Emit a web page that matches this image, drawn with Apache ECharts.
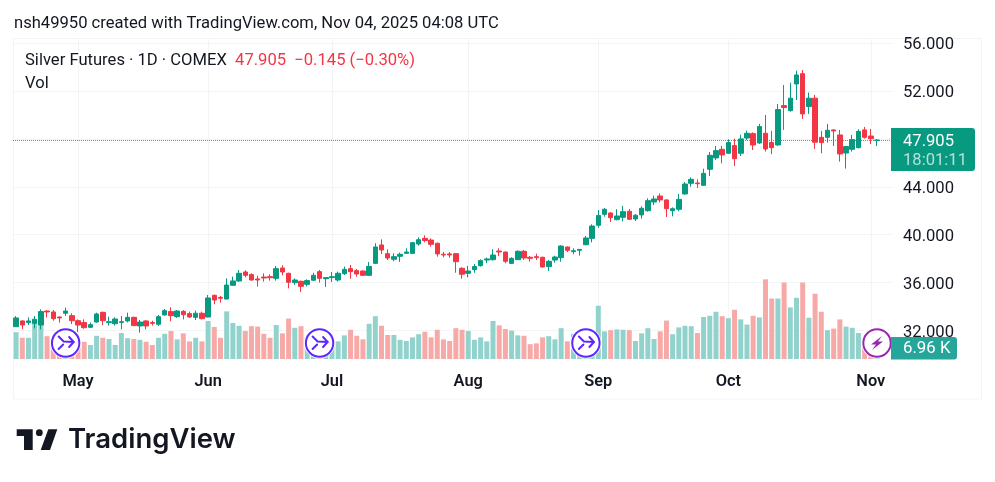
<!DOCTYPE html>
<html>
<head>
<meta charset="utf-8">
<title>Silver Futures</title>
<script src="https://cdn.jsdelivr.net/npm/echarts@6/dist/echarts.min.js"></script>
<style>
html, body { margin: 0; padding: 0; background: #fff; }
#chart { width: 995px; height: 482px; }
</style>
</head>
<body>
<div id="chart"></div>
<script>
// Data
const categories = [
    '04-16','04-17','04-21','04-22','04-23','04-24','04-25','04-28','04-29','04-30',
    '05-01','05-02','05-05','05-06','05-07','05-08','05-09','05-12','05-13','05-14','05-15','05-16','05-19','05-20','05-21','05-22','05-23','05-27','05-28','05-29','05-30',
    '06-02','06-03','06-04','06-05','06-06','06-09','06-10','06-11','06-12','06-13','06-16','06-17','06-18','06-20','06-23','06-24','06-25','06-26','06-27','06-30',
    '07-01','07-02','07-03','07-07','07-08','07-09','07-10','07-11','07-14','07-15','07-16','07-17','07-18','07-21','07-22','07-23','07-24','07-25','07-28','07-29','07-30','07-31',
    '08-01','08-04','08-05','08-06','08-07','08-08','08-11','08-12','08-13','08-14','08-15','08-18','08-19','08-20','08-21','08-22','08-25','08-26','08-27','08-28','08-29',
    '09-02','09-03','09-04','09-05','09-08','09-09','09-10','09-11','09-12','09-15','09-16','09-17','09-18','09-19','09-22','09-23','09-24','09-25','09-26','09-29','09-30',
    '10-01','10-02','10-03','10-06','10-07','10-08','10-09','10-10','10-13','10-14','10-15','10-16','10-17','10-20','10-21','10-22','10-23','10-24','10-27','10-28','10-29','10-30','10-31',
    '11-03','11-04','',''
];
const opens = [
    32.31,32.79,32.65,32.59,32.45,33.62,33.54,33.12,33.43,33.23,
    32.81,32.65,32.26,32.7,33.51,32.65,32.56,32.67,32.79,33.09,
    32.37,32.79,32.65,32.51,33.29,33.57,33.15,33.59,33.4,33.09,
    33.43,33.12,34.93,34.76,34.62,35.77,36.13,36.88,36.66,36.3,
    36.46,36.49,36.35,37.21,36.77,35.99,36.1,35.85,36.19,36.91,
    36.32,36.41,36.21,36.74,37.16,36.99,36.96,36.6,37.6,39.14,
    38.41,37.94,38.19,38.44,38.44,39.22,39.69,39.55,39.28,38.36,
    38.39,38.41,37.19,36.77,37.08,37.41,37.88,37.91,38.63,38.55,
    37.6,37.91,38.61,38.11,38.16,38.11,37.33,37.88,38.08,38.97,
    38.58,38.69,39.16,39.69,40.78,41.7,41.81,41.25,41.45,41.95,
    41.31,41.65,42.0,42.73,43.23,42.9,42.0,42.12,43.4,44.29,
    44.32,44.12,45.46,46.41,47.13,46.8,47.44,46.8,48.07,48.44,
    47.66,48.47,47.69,47.49,50.78,50.36,52.59,53.45,50.7,51.4,
    48.13,48.13,48.75,48.33,46.82,47.13,47.27,48.75,48.24,47.88
];
const closes = [
    33.04,32.45,32.79,32.93,33.57,33.54,32.98,33.04,33.62,32.81,
    32.45,32.23,32.48,33.37,32.81,32.73,32.95,32.73,33.09,32.4,
    32.7,32.37,32.59,33.15,33.65,33.23,33.62,33.31,33.12,33.43,
    32.98,34.71,34.54,34.68,35.79,36.13,36.77,36.6,36.21,36.21,
    36.38,36.4,37.16,36.88,36.02,36.21,35.68,36.16,36.6,36.35,
    36.41,36.49,36.77,37.1,36.91,36.71,36.6,37.35,38.97,38.72,
    38.05,38.16,38.36,38.55,39.33,39.58,39.5,39.19,38.39,38.3,
    38.3,37.74,36.69,36.96,37.33,37.83,37.97,38.3,38.55,37.77,
    38.02,38.61,38.05,38.02,38.08,37.3,37.77,38.13,39.05,38.69,
    38.66,38.77,39.72,40.72,41.61,42.12,41.42,41.56,41.92,41.28,
    41.62,42.2,42.84,42.98,42.9,42.17,42.17,42.95,44.23,44.62,
    44.26,45.12,46.63,47.02,46.66,47.69,46.35,48.0,48.47,47.49,
    49.03,47.16,47.27,50.45,50.62,51.4,53.34,50.09,51.4,47.72,
    47.69,48.72,48.66,46.74,47.36,47.94,48.63,48.13,48.02,47.905
];
const lows = [
    32.3,32.12,32.45,32.17,32.09,33.09,32.81,32.65,33.2,32.53,
    31.87,32.14,32.2,32.65,32.45,32.4,32.4,32.09,32.67,32.36,
    31.81,32.09,32.4,32.37,33.23,32.76,33.04,32.92,33.04,32.87,
    32.92,33.09,34.18,34.32,34.6,35.71,36.05,36.43,36.16,35.66,
    36.08,36.16,36.16,36.6,35.51,35.8,35.21,35.68,36.13,35.99,
    35.63,36.05,36.08,36.63,36.32,36.49,36.55,36.55,37.55,38.38,
    37.88,37.77,37.72,38.38,38.38,39.08,39.36,39.0,38.16,38.11,
    38.08,36.82,36.32,36.43,36.82,37.33,37.61,37.83,38.22,37.61,
    37.55,37.88,37.88,37.74,37.88,37.24,36.96,37.66,37.74,38.55,
    38.36,38.25,39.11,39.36,40.58,41.5,41.06,41.2,41.11,41.22,
    41.14,41.34,41.92,42.48,42.68,41.48,41.53,41.95,43.34,44.01,
    43.9,44.07,44.9,46.24,45.96,46.77,45.74,46.57,47.91,47.07,
    47.58,46.94,46.72,47.44,48.75,50.28,51.25,49.67,50.09,47.16,
    46.8,47.69,47.41,46.1,45.52,46.94,47.21,48.02,47.58,47.4
];
const highs = [
    33.2,32.85,33.09,33.2,33.76,33.68,33.7,33.15,33.9,33.43,
    32.92,32.92,32.65,33.48,33.57,33.15,33.09,33.2,33.48,33.15,
    32.87,32.85,32.81,33.29,33.79,33.93,33.7,33.7,33.57,33.65,
    33.57,34.96,34.99,34.88,36.35,36.49,37.05,37.02,36.77,36.57,
    36.77,36.68,37.38,37.44,36.82,36.35,36.16,36.27,36.82,37.05,
    36.43,36.88,36.91,37.33,37.47,37.13,37.02,37.72,39.28,39.61,
    38.77,38.44,38.5,38.86,39.39,39.78,39.94,39.69,39.33,38.55,
    38.55,38.44,37.27,37.38,37.55,37.94,38.08,38.77,38.86,38.58,
    38.11,38.69,38.72,38.22,38.41,38.16,37.88,38.24,39.11,39.0,
    38.86,38.77,39.89,40.86,42.06,42.23,41.87,42.12,42.4,42.14,
    41.73,42.37,43.04,43.26,43.45,42.95,42.28,43.4,44.4,44.79,
    44.62,45.51,46.91,47.41,47.41,47.97,48.02,48.35,48.69,48.55,
    49.25,50.0,48.67,50.92,52.5,52.7,53.7,53.76,51.87,51.67,
    48.67,49.25,48.8,48.75,47.41,48.33,48.8,49.0,48.83,47.95
];
// volume in thousands
const volumes = [
    67,53,53,90,100,57,50,43,38,48,
    40,43,35,58,53,50,35,65,52,50,
    48,43,35,53,63,70,49,64,44,53,
    44,95,80,53,119,90,83,70,82,81,
    63,53,85,64,101,78,82,55,45,50,
    40,38,44,59,73,58,49,88,107,83,
    60,60,48,45,54,62,68,54,73,49,
    45,77,73,70,48,54,44,95,84,75,
    71,59,58,37,39,54,57,49,77,44,
    63,45,43,45,133,69,72,74,73,72,
    45,64,77,50,69,96,62,79,83,82,
    65,105,108,118,107,102,123,99,86,108,
    104,199,151,151,191,129,153,191,103,163,
    118,72,76,99,81,78,65,50,35,6.96
];
const monthTicks = { '05-01': 'May', '06-02': 'Jun', '07-01': 'Jul', '08-01': 'Aug', '09-02': 'Sep', '10-01': 'Oct', '11-03': 'Nov' };
const priceLines = [32, 36, 40, 44, 48, 52, 56];
const priceLabels = [32, 36, 40, 44, 52, 56];
const lastPrice = 47.905;
const rollDates = ['04-29', '06-27', '08-28'];
const flashDates = ['11-04'];

// Colors
const GREEN = '#089981';
const RED = '#f23645';
const VOL_GREEN = '#92d2cc';
const VOL_RED = '#f7a9a7';
const VOL_TAG = '#26a69a';
const TEXT = '#131722';
const LINE = '#f3f4f6';
const FONT = 'Roboto';

function drawMarker(params, api) {
    const base = api.coord([api.value(0), 0]);
    const x = base[0];
    const y = base[1] - 16;
    const isFlash = api.value(2) === 1;
    const color = isFlash ? '#9c27b0' : '#5f27ff';
    const children = [
        { type: 'circle', shape: { cx: x, cy: y, r: 15.5 }, style: { fill: '#fff' } },
        { type: 'circle', shape: { cx: x, cy: y, r: 13.7 }, style: { fill: '#fff', stroke: color, lineWidth: 2 } }
    ];
    if (isFlash) {
        children.push({
            type: 'polygon',
            shape: { points: [[x + 5, y - 7], [x - 6, y + 1.5], [x - 1, y + 1.5], [x - 5, y + 7], [x + 6, y - 1.5], [x + 1, y - 1.5]] },
            style: { fill: color }
        });
    } else {
        const line = { fill: 'none', stroke: color, lineWidth: 2, lineCap: 'round', lineJoin: 'round' };
        children.push(
            { type: 'polyline', shape: { points: [[x - 7, y - 6.5], [x - 2, y - 1.5], [x + 8, y - 1]] }, style: line },
            { type: 'polyline', shape: { points: [[x + 3.5, y - 6], [x + 8, y - 1], [x + 3.5, y + 4]] }, style: line },
            { type: 'polyline', shape: { points: [[x - 7, y + 6], [x - 2.5, y + 1.5]] }, style: line }
        );
    }
    return { type: 'group', children: children };
}

const chart = echarts.init(document.getElementById('chart'), null, { renderer: 'canvas' });

chart.setOption({
    animation: false,
    backgroundColor: '#fff',
    textStyle: { fontFamily: FONT },
    title: [
        {
            text: 'nsh49950 created with TradingView.com, Nov 04, 2025 04:08 UTC',
            left: 9, top: 10,
            textStyle: { fontFamily: FONT, fontSize: 16.6, fontWeight: 400, color: TEXT }
        },
        {
            text: '{a|Silver Futures · 1D · COMEX}  {b|47.905  −0.145 (−0.30%)}',
            left: 20, top: 47,
            textStyle: {
                fontFamily: FONT, fontSize: 16.6, fontWeight: 400,
                rich: {
                    a: { fontFamily: FONT, fontSize: 16.6, color: TEXT },
                    b: { fontFamily: FONT, fontSize: 16.6, color: RED }
                }
            }
        },
        {
            text: 'Vol',
            left: 20, top: 70,
            textStyle: { fontFamily: FONT, fontSize: 16.6, fontWeight: 400, color: TEXT }
        }
    ],
    grid: { left: 13, top: 38, width: 879.5, height: 321, containLabel: false },
    xAxis: {
        type: 'category',
        data: categories,
        boundaryGap: true,
        axisLine: { show: false },
        axisTick: { show: false },
        axisLabel: {
            margin: 15,
            fontFamily: FONT,
            fontSize: 16.4,
            fontWeight: 600,
            color: TEXT,
            interval: (i, value) => value in monthTicks,
            formatter: value => monthTicks[value] || ''
        },
        splitLine: {
            show: true,
            alignWithLabel: true,
            interval: (i, value) => value in monthTicks,
            lineStyle: { color: LINE, width: 1 }
        }
    },
    yAxis: [
        {
            type: 'value',
            position: 'right',
            min: 29.61,
            max: 56.43,
            axisLine: { show: false },
            axisTick: { show: false, customValues: priceLines },
            axisLabel: {
                customValues: priceLabels,
                margin: 10.5,
                fontFamily: FONT,
                fontSize: 16.6,
                color: TEXT,
                formatter: value => '{v|' + value.toFixed(3) + '}',
                rich: {
                    v: { fontFamily: FONT, fontSize: 16.6, color: TEXT, padding: [4, 0, 0, 0] }
                }
            },
            splitLine: { show: true, lineStyle: { color: LINE, width: 1 } }
        },
        {
            type: 'value',
            min: 0,
            max: 802,
            show: false,
            splitLine: { show: false }
        }
    ],
    series: [
        {
            name: 'Vol',
            type: 'bar',
            yAxisIndex: 1,
            barWidth: 5,
            z: 2,
            data: volumes.map((v, i) => ({
                value: v,
                itemStyle: { color: closes[i] >= opens[i] ? VOL_GREEN : VOL_RED }
            }))
        },
        {
            name: 'Silver Futures',
            type: 'candlestick',
            yAxisIndex: 0,
            barWidth: 5,
            z: 3,
            itemStyle: { color: GREEN, color0: RED, borderColor: GREEN, borderColor0: RED, borderWidth: 1 },
            data: opens.map((o, i) => [o, closes[i], lows[i], highs[i]]),
            markLine: {
                silent: true,
                symbol: 'none',
                animation: false,
                lineStyle: { color: 'rgba(8,153,129,0.8)', type: 'dotted', width: 1 },
                label: {
                    show: true,
                    position: 'end',
                    distance: -1.5,
                    offset: [0, 9.5],
                    formatter: '{a|47.905}\n{b|18:01:11}',
                    backgroundColor: GREEN,
                    borderRadius: [0, 3, 3, 0],
                    padding: [4, 8, 1, 12],
                    rich: {
                        a: { fontFamily: FONT, fontSize: 16.6, lineHeight: 19, color: '#fff' },
                        b: { fontFamily: FONT, fontSize: 16.6, lineHeight: 19, color: 'rgba(255,255,255,0.7)' }
                    }
                },
                data: [{ yAxis: lastPrice }]
            }
        },
        {
            name: 'Events',
            type: 'custom',
            yAxisIndex: 1,
            z: 5,
            clip: false,
            renderItem: drawMarker,
            encode: { x: 0, y: 1 },
            data: rollDates.map(d => [d, 0, 0]).concat(flashDates.map(d => [d, 0, 1]))
        }
    ],
    graphic: [
        // chart frame
        { type: 'rect', z: 0, silent: true, shape: { x: 13.5, y: 38.5, width: 968, height: 360.5 }, style: { fill: 'none', stroke: LINE, lineWidth: 1 } },
        // volume tag
        { type: 'rect', z: 20, silent: true, shape: { x: 891, y: 337, width: 66, height: 22.5, r: [0, 3, 3, 0] }, style: { fill: VOL_TAG } },
        { type: 'text', z: 21, silent: true, x: 903, y: 348.5, style: { text: '6.96 K', fill: '#fff', font: '16.8px ' + FONT, textVerticalAlign: 'middle' } },
        // TradingView logo
        { type: 'polygon', z: 5, silent: true, shape: { points: [[16.7, 429.3], [32.7, 429.3], [32.7, 450], [24, 450], [24, 436], [16.7, 436]] }, style: { fill: TEXT } },
        { type: 'circle', z: 5, silent: true, shape: { cx: 39.3, cy: 432.7, r: 3.4 }, style: { fill: TEXT } },
        { type: 'polygon', z: 5, silent: true, shape: { points: [[48.3, 429.3], [57.3, 429.3], [50, 450], [40.7, 450]] }, style: { fill: TEXT } },
        { type: 'text', z: 5, silent: true, x: 68, y: 440, style: { text: 'TradingView', fill: TEXT, font: '600 27.5px Inter', textVerticalAlign: 'middle' } }
    ]
});
</script>
</body>
</html>
